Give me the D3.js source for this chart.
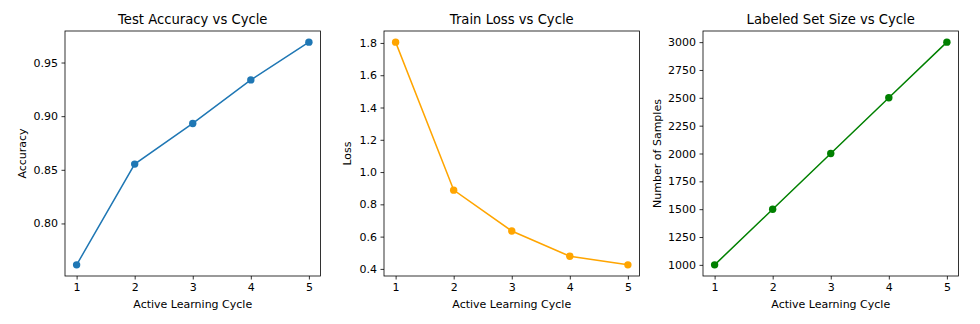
<!DOCTYPE html>
<html>
<head>
<meta charset="utf-8">
<script src="https://cdn.jsdelivr.net/npm/d3@7"></script>
<style>
  body { margin: 0; background: #fff; }
  svg text { font-family: "DejaVu Sans", sans-serif; fill: #000; }
</style>
</head>
<body>
<div id="chart"></div>
<script>
// data
var cycles = [1, 2, 3, 4, 5];
var accuracy = [0.7614, 0.8553, 0.8932, 0.9338, 0.969];
var loss = [1.805, 0.888, 0.635, 0.478, 0.425];
var labeled = [1000, 1500, 2000, 2500, 3000];

var accTicks = [0.80, 0.85, 0.90, 0.95];
var lossTicks = [0.4, 0.6, 0.8, 1.0, 1.2, 1.4, 1.6, 1.8];
var sizeTicks = [1000, 1250, 1500, 1750, 2000, 2250, 2500, 2750, 3000];

var W = 980, H = 324;
var plotTop = 31, plotBottom = 276, pw = 255.5;

var panels = [
  {left: 65,  title: "Test Accuracy vs Cycle",    ylab: "Accuracy",          yl: 21.5,  vals: accuracy, ticks: accTicks,  fmt: d3.format(".2f"), color: "#1f77b4"},
  {left: 384, title: "Train Loss vs Cycle",       ylab: "Loss",              yl: 347,   vals: loss,     ticks: lossTicks, fmt: d3.format(".1f"), color: "#ffa500"},
  {left: 703, title: "Labeled Set Size vs Cycle", ylab: "Number of Samples", yl: 656.5, vals: labeled,  ticks: sizeTicks, fmt: d3.format("d"),   color: "#008000"}
];

var svg = d3.select("#chart").append("svg")
    .attr("width", W).attr("height", H);

panels.forEach(function(p) {
  var ext = d3.extent(p.vals);
  var pad = (ext[1] - ext[0]) * 0.05;
  var x = d3.scaleLinear().domain([0.8, 5.2]).range([p.left, p.left + pw]);
  var y = d3.scaleLinear().domain([ext[0] - pad, ext[1] + pad]).range([plotBottom, plotTop]);

  var xAxis = svg.append("g")
      .attr("transform", "translate(0," + plotBottom + ")")
      .call(d3.axisBottom(x).tickValues(cycles).tickFormat(d3.format("d")).tickSize(3.5).tickPadding(3.5));
  var yAxis = svg.append("g")
      .attr("transform", "translate(" + p.left + ",0)")
      .call(d3.axisLeft(y).tickValues(p.ticks).tickFormat(p.fmt).tickSize(3.5).tickPadding(3.5));
  [xAxis, yAxis].forEach(function(a) {
    a.select(".domain").remove();
    a.selectAll("line").attr("stroke", "#000").attr("stroke-width", 0.8);
    a.selectAll("text").style("font-size", "11px").attr("fill", "#000");
  });

  var line = d3.line()
      .x(function(d, i) { return x(cycles[i]); })
      .y(function(d) { return y(d); });

  svg.append("path")
      .datum(p.vals)
      .attr("fill", "none")
      .attr("stroke", p.color)
      .attr("stroke-width", 1.5)
      .attr("d", line);

  svg.selectAll(null)
      .data(p.vals)
      .enter().append("circle")
      .attr("cx", function(d, i) { return x(cycles[i]); })
      .attr("cy", function(d) { return y(d); })
      .attr("r", 3.7)
      .attr("fill", p.color);

  // frame
  svg.append("rect")
      .attr("x", p.left).attr("y", plotTop)
      .attr("width", pw).attr("height", plotBottom - plotTop)
      .attr("fill", "none").attr("stroke", "#000").attr("stroke-width", 0.8);

  svg.append("text")
      .attr("x", p.left + pw / 2).attr("y", 24)
      .attr("text-anchor", "middle")
      .style("font-size", "13.2px")
      .text(p.title);

  svg.append("text")
      .attr("x", p.left + pw / 2).attr("y", 307.5)
      .attr("text-anchor", "middle")
      .style("font-size", "11px")
      .text("Active Learning Cycle");

  svg.append("text")
      .attr("transform", "translate(" + (p.yl + 4) + "," + ((plotTop + plotBottom) / 2) + ") rotate(-90)")
      .attr("text-anchor", "middle")
      .style("font-size", "11px")
      .text(p.ylab);
});
</script>
</body>
</html>
